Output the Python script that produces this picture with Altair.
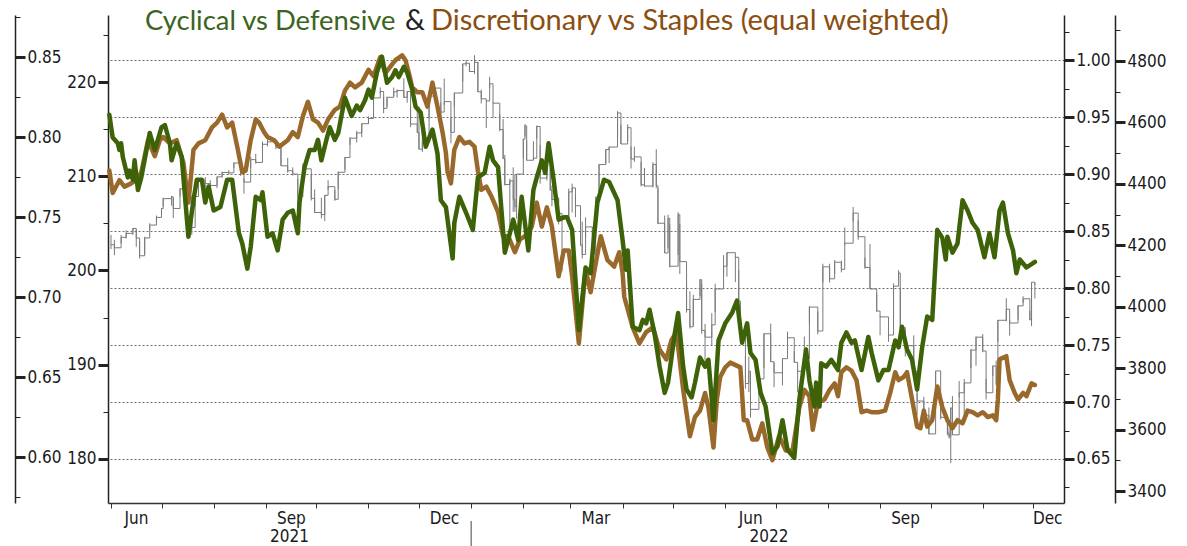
import altair as alt
import pandas as pd

# ---------------- values ----------------
# Cyclical vs Defensive (green, inner right axis 0.65-1.00)
green_dates = [
    "2021-05-31", "2021-06-02", "2021-06-05", "2021-06-06", "2021-06-07", "2021-06-08", "2021-06-11", "2021-06-12",
    "2021-06-14", "2021-06-15", "2021-06-17", "2021-06-19", "2021-06-24", "2021-06-27",
    "2021-07-01", "2021-07-03", "2021-07-06", "2021-07-07", "2021-07-10", "2021-07-13", "2021-07-16", "2021-07-17",
    "2021-07-20", "2021-07-22", "2021-07-25", "2021-07-27", "2021-07-29",
    "2021-08-01", "2021-08-05", "2021-08-09", "2021-08-12", "2021-08-16", "2021-08-18", "2021-08-21", "2021-08-23",
    "2021-08-26", "2021-08-29", "2021-08-30",
    "2021-09-02", "2021-09-05", "2021-09-08", "2021-09-11", "2021-09-14", "2021-09-17", "2021-09-20", "2021-09-21",
    "2021-09-24", "2021-09-27", "2021-09-30",
    "2021-10-02", "2021-10-04", "2021-10-07", "2021-10-09", "2021-10-12", "2021-10-14", "2021-10-18", "2021-10-22",
    "2021-10-25", "2021-10-27", "2021-10-30",
    "2021-11-01", "2021-11-03", "2021-11-06", "2021-11-09", "2021-11-12", "2021-11-15", "2021-11-17", "2021-11-19",
    "2021-11-22", "2021-11-24", "2021-11-27", "2021-11-29",
    "2021-12-02", "2021-12-05", "2021-12-09", "2021-12-12", "2021-12-14", "2021-12-17", "2021-12-21", "2021-12-22",
    "2021-12-25", "2021-12-29",
    "2022-01-02", "2022-01-05", "2022-01-09", "2022-01-12", "2022-01-14", "2022-01-17", "2022-01-21", "2022-01-24",
    "2022-01-26", "2022-01-29", "2022-01-31",
    "2022-02-04", "2022-02-07", "2022-02-09", "2022-02-12", "2022-02-14", "2022-02-16", "2022-02-19", "2022-02-22",
    "2022-02-25", "2022-02-27",
    "2022-03-02", "2022-03-06", "2022-03-10", "2022-03-13", "2022-03-17", "2022-03-21", "2022-03-24", "2022-03-29",
    "2022-04-01", "2022-04-03", "2022-04-04", "2022-04-07", "2022-04-11", "2022-04-13", "2022-04-15", "2022-04-17",
    "2022-04-20", "2022-04-23", "2022-04-26", "2022-04-28",
    "2022-05-02", "2022-05-04", "2022-05-07", "2022-05-09", "2022-05-12", "2022-05-14", "2022-05-17", "2022-05-20",
    "2022-05-22", "2022-05-25", "2022-05-28",
    "2022-06-01", "2022-06-05", "2022-06-08", "2022-06-11", "2022-06-14", "2022-06-16", "2022-06-19", "2022-06-22",
    "2022-06-25", "2022-06-29",
    "2022-07-02", "2022-07-05", "2022-07-08", "2022-07-12", "2022-07-15", "2022-07-19", "2022-07-21", "2022-07-24",
    "2022-07-25", "2022-07-27", "2022-07-28", "2022-07-31",
    "2022-08-03", "2022-08-07", "2022-08-09", "2022-08-12", "2022-08-15", "2022-08-17", "2022-08-21", "2022-08-25",
    "2022-08-27", "2022-08-31",
    "2022-09-03", "2022-09-06", "2022-09-10", "2022-09-12", "2022-09-14", "2022-09-17", "2022-09-20", "2022-09-23",
    "2022-09-26", "2022-09-29",
    "2022-10-02", "2022-10-05", "2022-10-08", "2022-10-10", "2022-10-11", "2022-10-14", "2022-10-17", "2022-10-20",
    "2022-10-23", "2022-10-26", "2022-10-29", "2022-10-31",
    "2022-11-02", "2022-11-05", "2022-11-08", "2022-11-11", "2022-11-13", "2022-11-16", "2022-11-19", "2022-11-21",
    "2022-11-23", "2022-11-27", "2022-12-02",
]
green_values = [
    0.952, 0.932, 0.927, 0.921, 0.927, 0.915, 0.897, 0.903,
    0.895, 0.912, 0.886, 0.897, 0.936, 0.921,
    0.941, 0.943, 0.927, 0.912, 0.927, 0.915, 0.862, 0.845,
    0.877, 0.895, 0.895, 0.875, 0.889,
    0.868, 0.871, 0.895, 0.895, 0.848, 0.839, 0.817, 0.836,
    0.880, 0.877, 0.884,
    0.845, 0.848, 0.833, 0.860, 0.866, 0.868, 0.848, 0.875,
    0.906, 0.921, 0.921,
    0.930, 0.912, 0.930, 0.941, 0.930, 0.936, 0.967, 0.951,
    0.960, 0.956, 0.965,
    0.974, 0.967, 0.989, 1.003, 0.980, 0.985, 0.991, 0.985,
    0.994, 0.989, 0.974, 0.959,
    0.954, 0.924, 0.939, 0.918, 0.877, 0.871, 0.826, 0.857,
    0.880, 0.866,
    0.851, 0.897, 0.901, 0.924, 0.912, 0.906, 0.831, 0.848,
    0.860, 0.842, 0.880,
    0.833, 0.886, 0.897, 0.912, 0.901, 0.927, 0.895, 0.860,
    0.862, 0.862,
    0.851, 0.763, 0.818, 0.813, 0.875, 0.895, 0.893, 0.877,
    0.842, 0.816, 0.833, 0.766, 0.763, 0.772, 0.769, 0.781,
    0.760, 0.731, 0.708, 0.717,
    0.760, 0.778, 0.731, 0.711, 0.704, 0.717, 0.739, 0.731,
    0.737, 0.684, 0.754,
    0.769, 0.778, 0.789, 0.752, 0.769, 0.743, 0.737, 0.708,
    0.696, 0.655,
    0.661, 0.684, 0.658, 0.651, 0.702, 0.746, 0.719, 0.696,
    0.717, 0.696, 0.734, 0.731,
    0.737, 0.728, 0.752, 0.761, 0.752, 0.754, 0.728, 0.757,
    0.743, 0.719,
    0.728, 0.728, 0.754, 0.748, 0.766, 0.746, 0.737, 0.711,
    0.748, 0.775,
    0.772, 0.851, 0.844, 0.825, 0.845, 0.831, 0.839, 0.877,
    0.868, 0.857, 0.851, 0.839,
    0.827, 0.848, 0.827, 0.868, 0.875, 0.848, 0.833, 0.813,
    0.825, 0.818, 0.823,
]

# Discretionary vs Staples, equal weighted (brown, far left axis 0.60-0.85)
brown_dates = [
    "2021-05-31", "2021-06-02", "2021-06-06", "2021-06-09", "2021-06-13", "2021-06-16", "2021-06-19", "2021-06-23",
    "2021-06-27", "2021-06-30",
    "2021-07-02", "2021-07-06", "2021-07-10", "2021-07-14", "2021-07-17", "2021-07-20", "2021-07-23", "2021-07-27",
    "2021-07-31",
    "2021-08-03", "2021-08-06", "2021-08-09", "2021-08-12", "2021-08-15", "2021-08-18", "2021-08-20", "2021-08-23",
    "2021-08-26", "2021-08-28", "2021-08-31",
    "2021-09-02", "2021-09-06", "2021-09-09", "2021-09-14", "2021-09-17", "2021-09-20", "2021-09-23", "2021-09-26",
    "2021-09-29",
    "2021-10-02", "2021-10-05", "2021-10-08", "2021-10-12", "2021-10-15", "2021-10-18", "2021-10-21", "2021-10-24",
    "2021-10-28",
    "2021-11-01", "2021-11-04", "2021-11-08", "2021-11-11", "2021-11-14", "2021-11-17", "2021-11-21", "2021-11-23",
    "2021-11-25", "2021-11-27", "2021-11-30",
    "2021-12-03", "2021-12-06", "2021-12-09", "2021-12-12", "2021-12-15", "2021-12-17", "2021-12-18", "2021-12-20",
    "2021-12-22", "2021-12-25", "2021-12-28", "2021-12-31",
    "2022-01-03", "2022-01-05", "2022-01-07", "2022-01-10", "2022-01-13", "2022-01-17", "2022-01-20", "2022-01-23",
    "2022-01-27", "2022-01-30",
    "2022-02-02", "2022-02-06", "2022-02-09", "2022-02-12", "2022-02-15", "2022-02-18", "2022-02-22", "2022-02-25",
    "2022-02-28",
    "2022-03-02", "2022-03-06", "2022-03-10", "2022-03-13", "2022-03-15", "2022-03-19", "2022-03-23", "2022-03-27",
    "2022-03-30",
    "2022-04-01", "2022-04-02", "2022-04-07", "2022-04-11", "2022-04-15", "2022-04-19", "2022-04-23", "2022-04-27",
    "2022-04-30",
    "2022-05-03", "2022-05-07", "2022-05-11", "2022-05-14", "2022-05-17", "2022-05-20", "2022-05-22", "2022-05-25",
    "2022-05-27", "2022-05-29",
    "2022-06-01", "2022-06-04", "2022-06-10", "2022-06-12", "2022-06-14", "2022-06-17", "2022-06-20", "2022-06-23",
    "2022-06-26", "2022-06-29",
    "2022-07-03", "2022-07-07", "2022-07-11", "2022-07-15", "2022-07-18", "2022-07-21", "2022-07-23", "2022-07-26",
    "2022-07-30",
    "2022-08-02", "2022-08-05", "2022-08-07", "2022-08-09", "2022-08-12", "2022-08-15", "2022-08-18", "2022-08-21",
    "2022-08-24", "2022-08-27", "2022-08-31",
    "2022-09-04", "2022-09-07", "2022-09-10", "2022-09-12", "2022-09-15", "2022-09-17", "2022-09-20", "2022-09-23",
    "2022-09-25", "2022-09-27", "2022-09-29",
    "2022-10-02", "2022-10-05", "2022-10-08", "2022-10-11", "2022-10-14", "2022-10-17", "2022-10-20", "2022-10-23",
    "2022-10-26", "2022-10-29",
    "2022-11-01", "2022-11-04", "2022-11-07", "2022-11-09", "2022-11-10", "2022-11-11", "2022-11-15", "2022-11-17",
    "2022-11-20", "2022-11-22", "2022-11-25", "2022-11-27", "2022-11-30", "2022-12-02",
]
brown_values = [
    0.779, 0.765, 0.773, 0.769, 0.771, 0.773, 0.778, 0.798,
    0.788, 0.798,
    0.800, 0.796, 0.798, 0.784, 0.759, 0.792, 0.796, 0.798,
    0.806,
    0.809, 0.814, 0.806, 0.809, 0.794, 0.778, 0.779, 0.798,
    0.811, 0.809, 0.803,
    0.800, 0.798, 0.794, 0.798, 0.803, 0.800, 0.813, 0.822,
    0.811,
    0.809, 0.804, 0.811, 0.817, 0.819, 0.829, 0.834, 0.831,
    0.834,
    0.842, 0.838, 0.850, 0.840, 0.844, 0.848, 0.851, 0.848,
    0.840, 0.831, 0.828,
    0.828, 0.819, 0.834, 0.819, 0.803, 0.790, 0.778, 0.771,
    0.792, 0.800, 0.796, 0.797,
    0.794, 0.779, 0.767, 0.769, 0.763, 0.753, 0.738, 0.738,
    0.728, 0.736,
    0.738, 0.744, 0.759, 0.744, 0.756, 0.744, 0.713, 0.729,
    0.729,
    0.713, 0.671, 0.717, 0.703, 0.715, 0.738, 0.723, 0.719,
    0.728,
    0.715, 0.700, 0.681, 0.671, 0.678, 0.681, 0.667, 0.661,
    0.673,
    0.678, 0.642, 0.613, 0.625, 0.629, 0.640, 0.631, 0.606,
    0.636, 0.650,
    0.656, 0.659, 0.656, 0.623, 0.623, 0.611, 0.611, 0.621,
    0.606, 0.598,
    0.613, 0.604, 0.604, 0.631, 0.642, 0.638, 0.617, 0.634,
    0.636,
    0.642, 0.646, 0.638, 0.653, 0.656, 0.654, 0.648, 0.628,
    0.629, 0.628, 0.628,
    0.629, 0.640, 0.653, 0.648, 0.650, 0.653, 0.636, 0.619,
    0.618, 0.629, 0.619,
    0.623, 0.644, 0.631, 0.623, 0.618, 0.623, 0.621, 0.629,
    0.628, 0.626,
    0.628, 0.625, 0.626, 0.623, 0.636, 0.661, 0.663, 0.648,
    0.640, 0.636, 0.640, 0.638, 0.646, 0.645,
]

# S&P 500 bars (grey, far right axis 3400-4800): close, low, high
spx_dates = [
    "2021-06-01", "2021-06-03", "2021-06-07", "2021-06-10", "2021-06-14", "2021-06-16", "2021-06-18", "2021-06-21",
    "2021-06-24", "2021-06-28",
    "2021-07-01", "2021-07-02", "2021-07-07", "2021-07-08", "2021-07-12", "2021-07-15", "2021-07-19", "2021-07-21",
    "2021-07-23", "2021-07-27", "2021-07-30",
    "2021-08-03", "2021-08-06", "2021-08-10", "2021-08-13", "2021-08-17", "2021-08-19", "2021-08-23", "2021-08-26",
    "2021-08-30",
    "2021-09-02", "2021-09-07", "2021-09-10", "2021-09-14", "2021-09-17", "2021-09-20", "2021-09-23", "2021-09-28",
    "2021-09-30",
    "2021-10-04", "2021-10-06", "2021-10-08", "2021-10-12", "2021-10-14", "2021-10-18", "2021-10-21", "2021-10-25",
    "2021-10-28",
    "2021-11-01", "2021-11-04", "2021-11-08", "2021-11-10", "2021-11-12", "2021-11-16", "2021-11-18", "2021-11-22",
    "2021-11-24", "2021-11-26", "2021-11-30",
    "2021-12-01", "2021-12-03", "2021-12-07", "2021-12-10", "2021-12-14", "2021-12-16", "2021-12-20", "2021-12-22",
    "2021-12-27", "2021-12-29", "2021-12-31",
    "2022-01-03", "2022-01-05", "2022-01-07", "2022-01-10", "2022-01-12", "2022-01-14", "2022-01-18", "2022-01-20",
    "2022-01-21", "2022-01-24", "2022-01-26", "2022-01-27", "2022-01-28",
    "2022-02-01", "2022-02-02", "2022-02-03", "2022-02-07", "2022-02-09", "2022-02-11", "2022-02-15", "2022-02-17",
    "2022-02-18", "2022-02-22", "2022-02-24", "2022-02-28",
    "2022-03-02", "2022-03-04", "2022-03-07", "2022-03-08", "2022-03-10", "2022-03-14", "2022-03-16", "2022-03-18",
    "2022-03-22", "2022-03-24", "2022-03-29", "2022-03-31",
    "2022-04-04", "2022-04-06", "2022-04-08", "2022-04-12", "2022-04-14", "2022-04-19", "2022-04-21", "2022-04-22",
    "2022-04-26", "2022-04-28", "2022-04-29",
    "2022-05-04", "2022-05-05", "2022-05-09", "2022-05-11", "2022-05-13", "2022-05-17", "2022-05-18", "2022-05-20",
    "2022-05-24", "2022-05-26", "2022-05-31",
    "2022-06-02", "2022-06-07", "2022-06-09", "2022-06-10", "2022-06-13", "2022-06-15", "2022-06-16", "2022-06-21",
    "2022-06-24", "2022-06-28", "2022-06-30",
    "2022-07-05", "2022-07-08", "2022-07-12", "2022-07-14", "2022-07-18", "2022-07-21", "2022-07-26", "2022-07-29",
    "2022-08-02", "2022-08-05", "2022-08-09", "2022-08-11", "2022-08-16", "2022-08-19", "2022-08-23", "2022-08-26",
    "2022-08-30",
    "2022-09-01", "2022-09-06", "2022-09-09", "2022-09-12", "2022-09-13", "2022-09-16", "2022-09-21", "2022-09-23",
    "2022-09-27", "2022-09-30",
    "2022-10-04", "2022-10-07", "2022-10-11", "2022-10-12", "2022-10-13", "2022-10-14", "2022-10-18", "2022-10-21",
    "2022-10-25", "2022-10-28",
    "2022-11-01", "2022-11-03", "2022-11-07", "2022-11-09", "2022-11-10", "2022-11-15", "2022-11-17", "2022-11-22",
    "2022-11-25", "2022-11-29", "2022-11-30", "2022-12-02",
]
spx_close = [
    4202, 4192, 4226, 4239, 4255, 4224, 4166, 4224, 4266, 4291,
    4320, 4352, 4358, 4320, 4384, 4360, 4258, 4359, 4412, 4401, 4395,
    4423, 4437, 4436, 4468, 4448, 4406, 4479, 4470, 4529,
    4537, 4520, 4459, 4443, 4432, 4358, 4449, 4353, 4307,
    4300, 4363, 4391, 4350, 4438, 4486, 4549, 4566, 4596,
    4613, 4680, 4701, 4646, 4682, 4700, 4704, 4682, 4701, 4595, 4567,
    4513, 4538, 4686, 4712, 4634, 4668, 4568, 4696, 4791, 4793, 4766,
    4796, 4700, 4677, 4670, 4726, 4663, 4577, 4483, 4398, 4410, 4350, 4326, 4432,
    4546, 4589, 4477, 4484, 4587, 4419, 4471, 4380, 4349, 4304, 4288, 4374,
    4387, 4329, 4201, 4170, 4260, 4173, 4357, 4463, 4512, 4520, 4631, 4530,
    4583, 4481, 4488, 4397, 4393, 4463, 4394, 4272, 4175, 4288, 4132,
    4300, 4147, 3991, 3935, 4024, 4088, 3923, 3901, 3941, 4058, 4132,
    4176, 4161, 4018, 3901, 3750, 3790, 3666, 3765, 3912, 3821, 3785,
    3831, 3899, 3819, 3790, 3831, 3999, 3921, 4130, 4091, 4145, 4122, 4207, 4305, 4228, 4128, 4058, 3986,
    3967, 3908, 4067, 4110, 3932, 3873, 3790, 3693, 3647, 3586,
    3791, 3640, 3589, 3577, 3670, 3583, 3720, 3752, 3859, 3901,
    3856, 3720, 3807, 3749, 3956, 3992, 3947, 4003, 4026, 3958, 4080, 4072,
]
spx_low = [
    4188, 4168, 4206, 4222, 4234, 4195, 4157, 4170, 4250, 4275,
    4300, 4326, 4329, 4289, 4359, 4343, 4234, 4325, 4371, 4372, 4373,
    4386, 4421, 4430, 4453, 4426, 4368, 4451, 4466, 4514,
    4522, 4513, 4458, 4436, 4427, 4305, 4407, 4346, 4306,
    4288, 4279, 4381, 4345, 4383, 4447, 4527, 4535, 4552,
    4595, 4663, 4694, 4630, 4651, 4685, 4681, 4680, 4664, 4585, 4566,
    4513, 4504, 4612, 4681, 4612, 4657, 4532, 4651, 4733, 4783, 4765,
    4758, 4699, 4662, 4582, 4713, 4614, 4571, 4481, 4395, 4222, 4309, 4309, 4287,
    4483, 4554, 4477, 4478, 4548, 4401, 4411, 4378, 4327, 4268, 4115, 4280,
    4307, 4292, 4199, 4157, 4223, 4162, 4288, 4362, 4466, 4468, 4548, 4530,
    4539, 4450, 4472, 4392, 4391, 4388, 4386, 4269, 4175, 4190, 4128,
    4169, 4107, 3981, 3929, 3939, 4035, 3912, 3810, 3875, 3983, 4101,
    4098, 4080, 4017, 3900, 3733, 3722, 3639, 3715, 3800, 3820, 3738,
    3744, 3858, 3818, 3721, 3818, 3946, 3910, 4079, 4079, 4107, 4112, 4201, 4277, 4218, 4124, 4057, 3984,
    3907, 3886, 4017, 4087, 3933, 3838, 3789, 3647, 3623, 3584,
    3723, 3633, 3581, 3571, 3491, 3582, 3705, 3640, 3800, 3808,
    3852, 3698, 3774, 3744, 3886, 3953, 3906, 3958, 4013, 3956, 3937, 4027,
]
spx_high = [
    4234, 4218, 4234, 4249, 4256, 4251, 4214, 4228, 4272, 4297,
    4321, 4355, 4361, 4353, 4386, 4393, 4336, 4362, 4415, 4422, 4412,
    4424, 4440, 4445, 4470, 4480, 4418, 4489, 4498, 4538,
    4546, 4535, 4521, 4485, 4454, 4416, 4466, 4430, 4382,
    4355, 4364, 4412, 4380, 4440, 4487, 4552, 4573, 4597,
    4620, 4683, 4714, 4684, 4684, 4714, 4708, 4744, 4702, 4651, 4646,
    4652, 4590, 4695, 4713, 4665, 4743, 4616, 4697, 4791, 4804, 4787,
    4819, 4797, 4707, 4671, 4749, 4666, 4628, 4611, 4494, 4417, 4454, 4429, 4432,
    4547, 4595, 4542, 4539, 4590, 4526, 4472, 4450, 4395, 4356, 4295, 4385,
    4401, 4363, 4327, 4277, 4291, 4247, 4358, 4465, 4513, 4522, 4637, 4593,
    4594, 4521, 4521, 4471, 4452, 4471, 4513, 4386, 4297, 4300, 4269,
    4308, 4270, 4082, 4050, 4039, 4090, 4074, 3944, 3979, 4075, 4168,
    4177, 4164, 4119, 3974, 3838, 3838, 3761, 3780, 3914, 3945, 3818,
    3832, 3919, 3855, 3796, 3903, 4002, 3984, 4140, 4140, 4152, 4150, 4258, 4325, 4281, 4160, 4204, 4044,
    3970, 3942, 4076, 4119, 4060, 3880, 3907, 3720, 3707, 3672,
    3791, 3720, 3641, 3607, 3672, 3709, 3758, 3765, 3862, 3903,
    3911, 3765, 3809, 3825, 3957, 4028, 3958, 4005, 4034, 3987, 4080, 4077,
]

inner_left_range = [180, 220]          # 180-220 axis (no series drawn on it)
year_sep_dates = ["2022-01-01"]
year_label_dates = ["2021-09-15", "2022-06-27"]
year_labels = ["2021", "2022"]
title_parts = ["Cyclical vs Defensive", "&", "Discretionary vs Staples (equal weighted)"]

assert len(green_dates) == len(green_values)
assert len(brown_dates) == len(brown_values)
assert len(spx_dates) == len(spx_close) == len(spx_low) == len(spx_high)

# ---------------- styling ----------------
W, H = 956, 488
AX_FONT = "'DejaVu Sans Condensed', 'Open Sans', sans-serif"
TITLE_FONT = "Lato"
LABEL_COLOR = "#1a1a22"
GREEN = "#3d6208"
BROWN = "#99692c"
GREY = "#7a7a7a"

green_df = pd.DataFrame({"date": pd.to_datetime(green_dates), "ratio": green_values})
brown_df = pd.DataFrame({"date": pd.to_datetime(brown_dates), "ratio": brown_values})
spx_df = pd.DataFrame({"date": pd.to_datetime(spx_dates), "close": spx_close,
                       "low": spx_low, "high": spx_high})
orphan_df = pd.DataFrame({"v": inner_left_range})
sep_df = pd.DataFrame({"date": pd.to_datetime(year_sep_dates)})
years_df = pd.DataFrame({"date": pd.to_datetime(year_label_dates), "label": year_labels})

x_scale = alt.Scale(domain=[alt.DateTime(year=2021, month=5, date=30, hours=5),
                            alt.DateTime(year=2022, month=12, date=19, hours=7)])
month_ticks = [alt.DateTime(year=d.year, month=d.month, date=1)
               for d in pd.date_range("2021-06-01", "2022-12-01", freq="MS")]
x_axis = alt.Axis(
    values=month_ticks, title=None, grid=False,
    labelExpr="indexof([2, 5, 8, 11], month(datum.value)) >= 0 ? timeFormat(datum.value, '%b') : ''",
    labelOffset={"condition": {"test": "year(datum.value) == 2022 && month(datum.value) == 11", "value": 14},
                 "value": 25},
    labelFont=AX_FONT, labelFontSize=17, labelColor=LABEL_COLOR, labelPadding=2,
    labelFlush=False, labelOverlap=False,
    tickSize=5, tickColor="#333", domainColor="#333", domainWidth=1.5,
)


def X():
    # identical x definition on every layer so the shared axis merges cleanly
    return alt.X("date:T", scale=x_scale, axis=x_axis)


def y_axis(orient, offset, values, major_test, fmt, grid=False):
    kw = dict(
        orient=orient, offset=offset, values=values, title=None,
        labelExpr=f"({major_test}) ? format(datum.value, '{fmt}') : ''",
        labelFont=AX_FONT, labelFontSize=17, labelColor=LABEL_COLOR,
        labelPadding=2, labelFlush=False, labelOverlap=False,
        tickColor="#222",
        tickSize={"condition": {"test": major_test, "value": 10}, "value": 5},
        tickWidth={"condition": {"test": major_test, "value": 3}, "value": 1},
        domainColor="#222", domainWidth=1.5, grid=grid,
    )
    if grid:
        kw.update(gridColor="#6e6e6e", gridDash=[2, 2], gridWidth=1,
                  gridOpacity={"condition": {"test": major_test, "value": 1}, "value": 0})
    return alt.Axis(**kw)


TEST_005 = "abs(datum.value * 20 - round(datum.value * 20)) < 0.001"
far_left_vals = [round(0.575 + 0.025 * i, 3) for i in range(13)]
inner_left_vals = [180 + 5 * i for i in range(10)]
inner_right_vals = [round(0.625 + 0.025 * i, 3) for i in range(17)]
far_right_vals = [3400 + 100 * i for i in range(16)]

spx_scale = alt.Scale(domain=[3361, 4950], nice=False, zero=False)
spx_axis = y_axis("right", 51, far_right_vals, "datum.value % 200 == 0", "d")

spx_line = alt.Chart(spx_df).mark_line(interpolate="step-after", strokeWidth=1, color=GREY).encode(
    x=X(), y=alt.Y("close:Q", scale=spx_scale, axis=spx_axis),
)
spx_bars = alt.Chart(spx_df).mark_rule(strokeWidth=1, color=GREY).encode(
    x=X(), y=alt.Y("low:Q", scale=spx_scale, axis=spx_axis), y2="high:Q",
)
spx = alt.layer(spx_line, spx_bars)

brown = alt.Chart(brown_df).mark_line(strokeWidth=4.5, color=BROWN, strokeJoin="round", strokeCap="round").encode(
    x=X(),
    y=alt.Y("ratio:Q", scale=alt.Scale(domain=[0.57125, 0.87625], nice=False, zero=False),
            axis=y_axis("right", -(W + 93), far_left_vals, TEST_005, ".2f")),
)

green = alt.Chart(green_df).mark_line(strokeWidth=4.5, color=GREEN, strokeJoin="round", strokeCap="round").encode(
    x=X(),
    y=alt.Y("ratio:Q", scale=alt.Scale(domain=[0.6114, 1.0395], nice=False, zero=False),
            axis=y_axis("right", 0, inner_right_vals, TEST_005, ".2f", grid=True)),
)

orphan = alt.Chart(orphan_df).mark_point(opacity=0).encode(
    y=alt.Y("v:Q", scale=alt.Scale(domain=[175.33, 227.11], nice=False, zero=False),
            axis=y_axis("left", 0, inner_left_vals, "datum.value % 10 == 0", "d")),
)

sep = alt.Chart(sep_df).mark_rule(color="#444", strokeWidth=1).encode(
    x=X(), y=alt.value(506), y2=alt.value(531),
)

years = alt.Chart(years_df).mark_text(font=AX_FONT, fontSize=17, color=LABEL_COLOR, baseline="middle").encode(
    x=X(), y=alt.value(522), text="label:N",
)


def title_piece(text, color, x, size):
    return alt.Chart(pd.DataFrame({"t": [text]})).mark_text(
        align="left", baseline="alphabetic", font=TITLE_FONT, fontSize=size, color=color
    ).encode(x=alt.value(x), y=alt.value(15), text="t:N")


t1 = title_piece(title_parts[0], "#3b6421", 37, 27.4)
t2 = title_piece(title_parts[1], "#222222", 297, 28)
t3 = title_piece(title_parts[2], "#8a4e10", 323, 29)

chart = (
    alt.layer(spx, brown, green, orphan, sep, years, t1, t2, t3)
    .resolve_scale(y="independent")
    .properties(width=W, height=H, autosize=alt.AutoSizeParams(type="none"),
                padding={"left": 100, "top": 7, "right": 115, "bottom": 44})
    .configure_view(stroke=None)
)

chart.save("out.html", embed_options={"renderer": "svg", "actions": False})
